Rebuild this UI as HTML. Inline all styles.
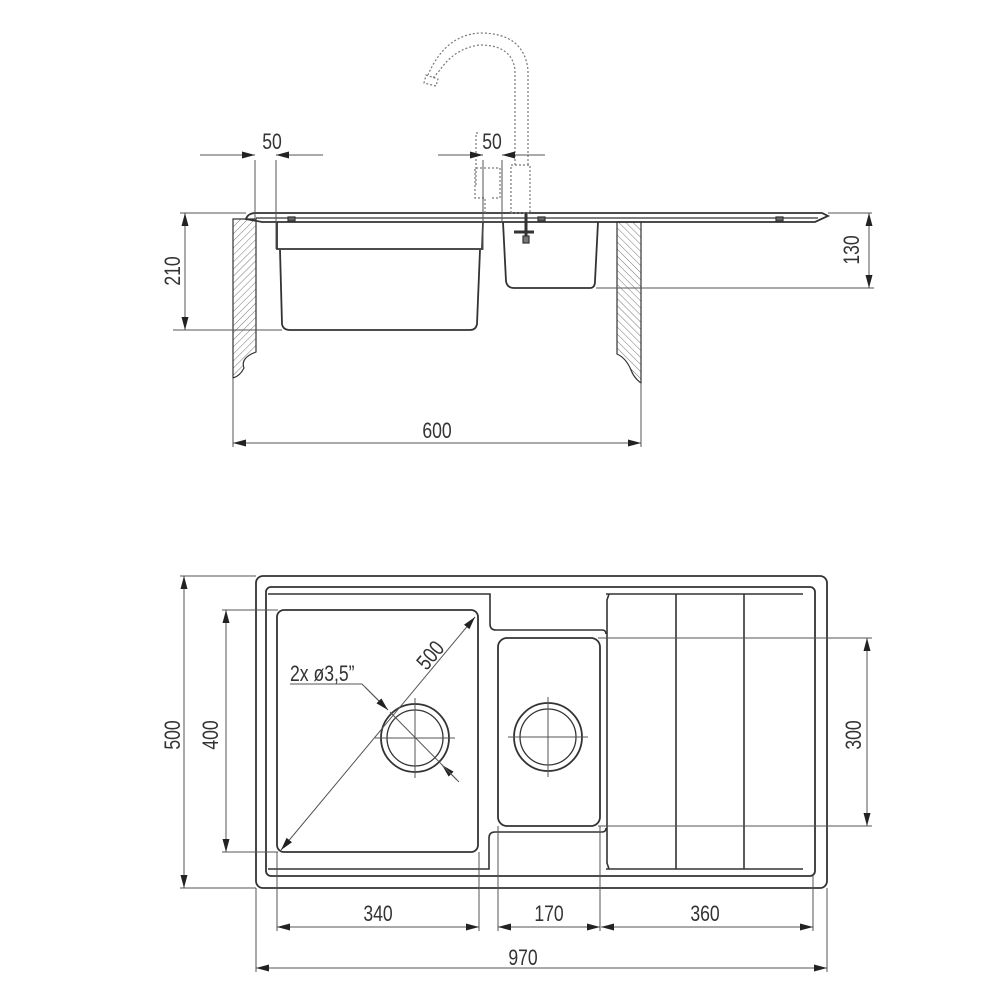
<!DOCTYPE html>
<html><head><meta charset="utf-8"><style>
html,body{margin:0;padding:0;background:#fff;width:1000px;height:1000px;overflow:hidden}
text{font-family:"Liberation Sans",sans-serif;font-size:22px;fill:#333}
</style></head><body>
<svg width="1000" height="1000" viewBox="0 0 1000 1000" xmlns="http://www.w3.org/2000/svg">
<defs>
<pattern id="hL" width="5" height="5" patternUnits="userSpaceOnUse" patternTransform="rotate(45)"><line x1="0" y1="0" x2="0" y2="5" stroke="#555" stroke-width="0.8"/></pattern>
<pattern id="hR" width="5" height="5" patternUnits="userSpaceOnUse" patternTransform="rotate(-45)"><line x1="0" y1="0" x2="0" y2="5" stroke="#555" stroke-width="0.8"/></pattern>
<marker id="a" viewBox="0 0 13 7" refX="13" refY="3.5" markerWidth="13" markerHeight="7" markerUnits="userSpaceOnUse" orient="auto-start-reverse"><path d="M0,0 L13,3.5 L0,7 z" fill="#222"/></marker>
</defs>
<g fill="none" stroke="#333" stroke-width="1.2">
<!-- ===== TOP SECTION ===== -->
<path d="M233,219 L256,219 L256,352 Q240,358 244,368 Q240,376 233,378 Z" fill="url(#hL)"/>
<path d="M617,222 L641,222 L641,383 Q634,378 631,370 Q626,358 617,354 Z" fill="url(#hR)"/>
<path d="M246,219 Q248,213 256,213 L822,213 L828,216 L815,222 L262,222 Z" stroke-width="1.8"/>
<line x1="256" y1="218" x2="818" y2="218"/>
<rect x="288" y="217" width="7" height="4" fill="#666"/>
<rect x="538" y="217" width="7" height="4" fill="#666"/>
<rect x="776" y="217" width="7" height="4" fill="#666"/>
<path d="M277,222 L277,249 L482,249 L483,222" stroke-width="1.8"/>
<path d="M280,250 L282,324 Q283,330 290,330 L470,330 Q476,330 477,324 L480,250" stroke-width="1.8"/>
<path d="M503,222 L506,281 Q507,288 514,288 L590,288 Q595,288 595,281 L598,222" stroke-width="1.8"/>
<line x1="526" y1="213" x2="526" y2="238" stroke-width="3"/>
<line x1="514" y1="232" x2="534" y2="232" stroke-width="3"/>
<rect x="523" y="236" width="6" height="7" fill="#777"/>
<g stroke-dasharray="2,2" stroke="#777">
<path d="M511,213 L511,165 L530,165 L530,213 Z"/>
<path d="M485,213 L485,198 L475,198 L475,168 L500,168 L500,198 L490,198"/>
<path d="M476,185 L476,133 L480,133"/>
<path d="M515,165 L515,70 Q512,45 480,45 Q455,48 440,70 L433,78"/>
<path d="M528,165 L528,70 Q524,33 480,33 Q445,35 428,75"/>
<path d="M426,75 L438,79 L436,86 L424,83 Z"/>
</g>
<g stroke="#555" stroke-width="1">
<line x1="255" y1="160" x2="255" y2="219"/>
<line x1="276" y1="160" x2="276" y2="249"/>
<line x1="200" y1="155" x2="255" y2="155" marker-end="url(#a)"/>
<line x1="323" y1="155" x2="276" y2="155" marker-end="url(#a)"/>
<line x1="483" y1="160" x2="483" y2="250"/>
<line x1="502" y1="160" x2="502" y2="223"/>
<line x1="438" y1="155" x2="483" y2="155" marker-end="url(#a)"/>
<line x1="545" y1="155" x2="502" y2="155" marker-end="url(#a)"/>
<line x1="180" y1="213" x2="246" y2="213"/>
<line x1="173" y1="330" x2="282" y2="330"/>
<line x1="185" y1="213" x2="185" y2="330" marker-start="url(#a)" marker-end="url(#a)"/>
<line x1="828" y1="213" x2="872" y2="213"/>
<line x1="596" y1="288" x2="874" y2="288"/>
<line x1="869" y1="213" x2="869" y2="288" marker-start="url(#a)" marker-end="url(#a)"/>
<line x1="233" y1="378" x2="233" y2="447"/>
<line x1="641" y1="383" x2="641" y2="447"/>
<line x1="233" y1="443" x2="641" y2="443" marker-start="url(#a)" marker-end="url(#a)"/>
</g>
<!-- ===== PLAN VIEW ===== -->
<rect x="256" y="576" width="571" height="312" rx="7" stroke-width="1.8"/>
<rect x="266" y="587" width="549" height="289" rx="5" stroke-width="1.8"/>
<path d="M268,594 L490,594 L490,624 Q490,630 496,630 L602,630 Q606,630 606,634" stroke-width="1.6"/>
<line x1="606" y1="594" x2="803" y2="594" stroke-width="1.6"/>
<path d="M268,869 L489,869 L489,838 Q489,832 495,832 L602,832 Q606,832 606,828" stroke-width="1.6"/>
<line x1="606" y1="869" x2="803" y2="869" stroke-width="1.6"/>
<path d="M609,594 L607,600 L607,863 L609,869" stroke-width="1.6"/>
<line x1="676" y1="594" x2="676" y2="869" stroke-width="1.6"/>
<line x1="744" y1="594" x2="744" y2="869" stroke-width="1.6"/>
<rect x="277" y="610" width="201" height="242" rx="7" stroke-width="1.8"/>
<rect x="498" y="638" width="102" height="188" rx="9" stroke-width="1.8"/>
<circle cx="415" cy="738" r="34" stroke-width="1.8"/>
<circle cx="415" cy="738" r="28" stroke-width="1.3"/>
<circle cx="548" cy="737" r="34" stroke-width="1.8"/>
<circle cx="548" cy="737" r="28" stroke-width="1.3"/>
<g stroke="#555" stroke-width="1">
<line x1="375" y1="738" x2="455" y2="738"/>
<line x1="415" y1="698" x2="415" y2="778"/>
<line x1="508" y1="737" x2="588" y2="737"/>
<line x1="548" y1="697" x2="548" y2="777"/>
<line x1="281" y1="850" x2="475" y2="617" marker-start="url(#a)" marker-end="url(#a)"/>
<polyline points="290,684 362,684 382,704"/>
<line x1="365" y1="687" x2="388" y2="710" marker-end="url(#a)"/>
<line x1="459" y1="782" x2="442" y2="765" marker-end="url(#a)"/>
<line x1="390" y1="712" x2="457" y2="780"/>
<line x1="180" y1="576" x2="256" y2="576"/>
<line x1="180" y1="888" x2="256" y2="888"/>
<line x1="184" y1="576" x2="184" y2="888" marker-start="url(#a)" marker-end="url(#a)"/>
<line x1="222" y1="610" x2="278" y2="610"/>
<line x1="222" y1="852" x2="278" y2="852"/>
<line x1="226" y1="610" x2="226" y2="852" marker-start="url(#a)" marker-end="url(#a)"/>
<line x1="598" y1="638" x2="872" y2="638"/>
<line x1="598" y1="826" x2="872" y2="826"/>
<line x1="867" y1="638" x2="867" y2="826" marker-start="url(#a)" marker-end="url(#a)"/>
<line x1="277" y1="852" x2="277" y2="931"/>
<line x1="479" y1="852" x2="479" y2="931"/>
<line x1="498" y1="826" x2="498" y2="931"/>
<line x1="600" y1="826" x2="600" y2="931"/>
<line x1="813" y1="876" x2="813" y2="931"/>
<line x1="256" y1="888" x2="256" y2="972"/>
<line x1="827" y1="888" x2="827" y2="972"/>
<line x1="277" y1="927" x2="479" y2="927" marker-start="url(#a)" marker-end="url(#a)"/>
<line x1="498" y1="927" x2="600" y2="927" marker-start="url(#a)" marker-end="url(#a)"/>
<line x1="601" y1="927" x2="813" y2="927" marker-start="url(#a)" marker-end="url(#a)"/>
<line x1="256" y1="968" x2="827" y2="968" marker-start="url(#a)" marker-end="url(#a)"/>
</g>
</g>
<g text-anchor="middle">
<text transform="translate(272,149) scale(0.8,1)">50</text>
<text transform="translate(492,149) scale(0.8,1)">50</text>
<text transform="translate(180,271) rotate(-90) scale(0.8,1)">210</text>
<text transform="translate(859,250) rotate(-90) scale(0.8,1)">130</text>
<text transform="translate(437,438) scale(0.8,1)">600</text>
<text transform="translate(180,735) rotate(-90) scale(0.8,1)">500</text>
<text transform="translate(218,735) rotate(-90) scale(0.8,1)">400</text>
<text transform="translate(861,735) rotate(-90) scale(0.8,1)">300</text>
<text transform="translate(436,660) rotate(-50) scale(0.8,1)">500</text>
<text transform="translate(378,921) scale(0.8,1)">340</text>
<text transform="translate(549,921) scale(0.8,1)">170</text>
<text transform="translate(705,921) scale(0.8,1)">360</text>
<text transform="translate(523,965) scale(0.8,1)">970</text>
</g>
<text transform="translate(290,681) scale(0.8,1)">2x ø3,5”</text>
</svg>
</body></html>
